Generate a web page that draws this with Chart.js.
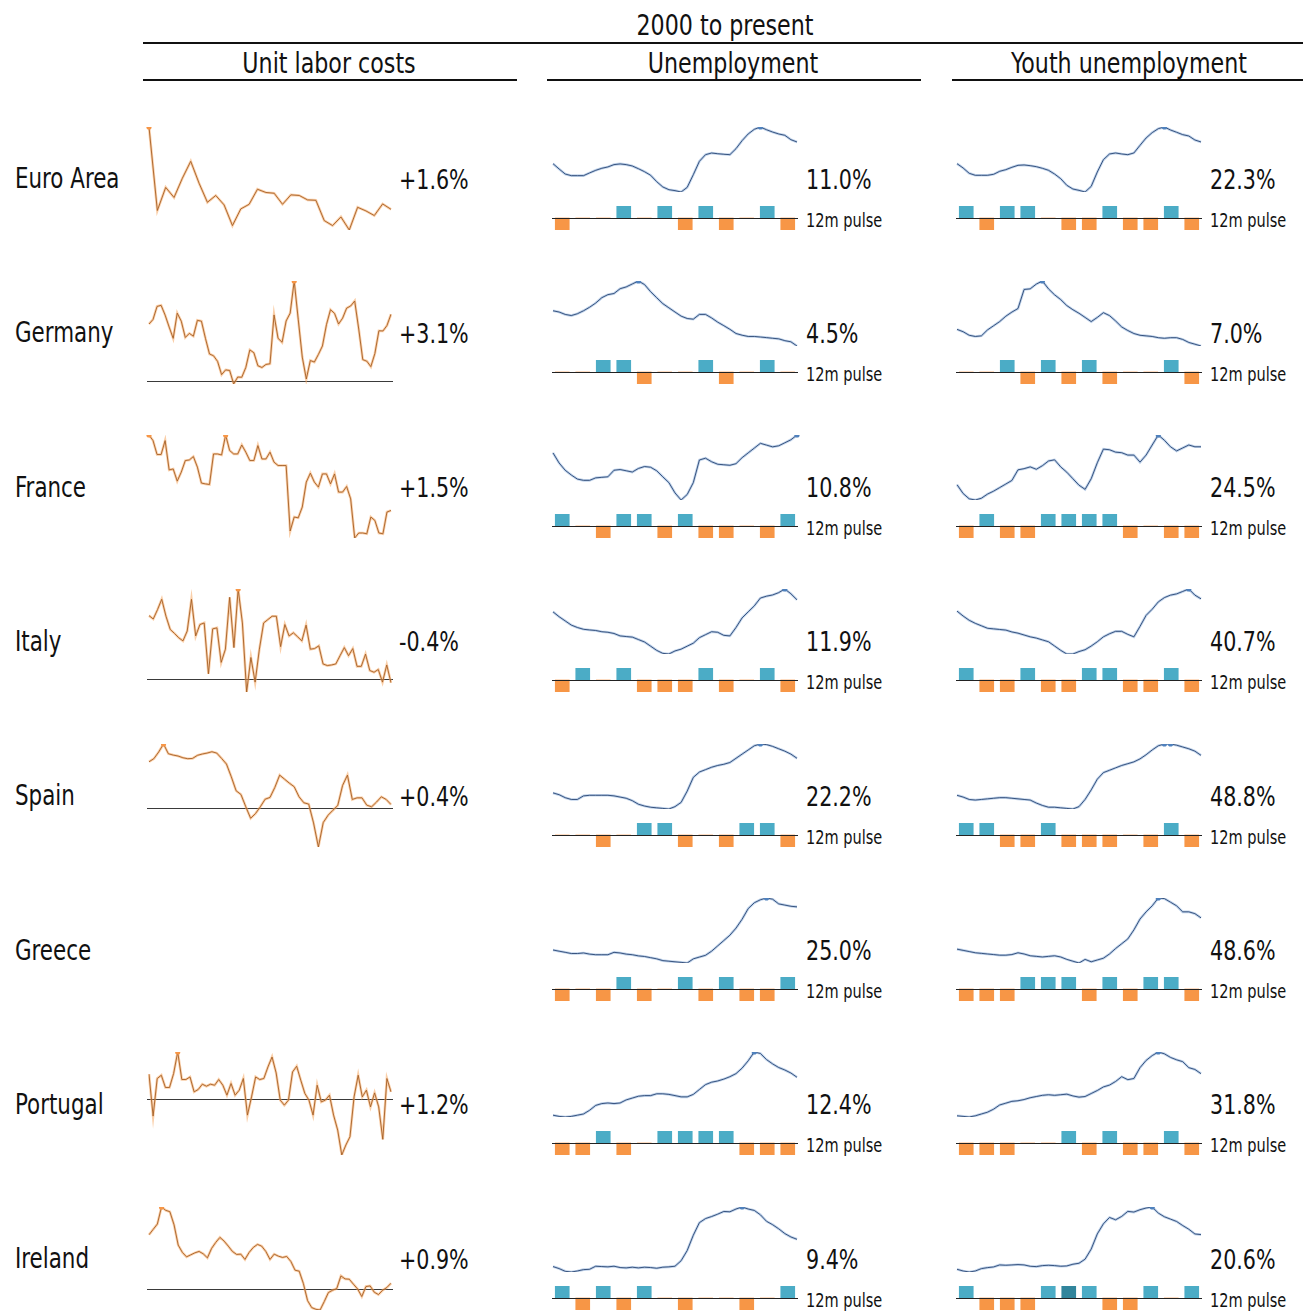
<!DOCTYPE html>
<html>
<head>
<meta charset="utf-8">
<script src="https://cdn.jsdelivr.net/npm/chart.js@4.4.1/dist/chart.umd.min.js"></script>
<style>
  body { margin: 0; background: #fff; }
  #page {
    position: relative; width: 1303px; height: 1313px; overflow: hidden; background: #fff;
    font-family: "Liberation Sans Narrow", "DejaVu Sans Condensed", "Arial Narrow", sans-serif; color: #111;
  }
  .t { position: absolute; white-space: nowrap; line-height: 1; transform: scaleX(0.85); transform-origin: 0 50%; }
  .t.c { transform-origin: 50% 50%; text-align: center; }
  .rule { position: absolute; height: 2px; background: #111; }
  canvas { position: absolute; }
</style>
</head>
<body>
<div id="page"></div>
<script>
// rows and latest values
const countries = ["Euro Area", "Germany", "France", "Italy", "Spain", "Greece", "Portugal", "Ireland"];
const ulcLatest = ["+1.6%", "+3.1%", "+1.5%", "-0.4%", "+0.4%", "", "+1.2%", "+0.9%"];
const unempLatest = ["11.0%", "4.5%", "10.8%", "11.9%", "22.2%", "25.0%", "12.4%", "9.4%"];
const youthLatest = ["22.3%", "7.0%", "24.5%", "40.7%", "48.8%", "48.6%", "31.8%", "20.6%"];

// unit labor costs, % y/y
const ulcEuroArea = [5.7, 1.54, 2.69, 2.19, 3.15, 3.99, 2.9, 1.95, 2.29, 1.82, 0.79, 1.62, 1.85, 2.6, 2.44, 2.4, 1.85, 2.32, 2.29, 2.07, 2.05, 1.04, 0.79, 1.22, 0.57, 1.7, 1.52, 1.29, 1.87, 1.6];
const ulcGermany = [2.64, 2.85, 3.45, 3.5, 3.05, 2.5, 1.98, 3.14, 2.77, 2.02, 2.21, 2.08, 2.81, 2.77, 1.98, 1.26, 1.18, 0.92, 0.31, 0.53, 0.5, -0.12, 0.2, 0.19, 0.64, 1.45, 1.32, 0.72, 0.64, 0.78, 0.81, 3.06, 1.98, 1.8, 2.78, 3.14, 4.62, 2.86, 1.12, 0.11, 0.96, 0.89, 1.24, 1.63, 2.61, 3.3, 3.13, 2.64, 2.91, 3.37, 3.47, 3.7, 2.41, 1.0, 0.93, 0.68, 1.28, 2.33, 2.32, 2.57, 3.09];
const ulcFrance = [5.28, 5.0, 4.3, 4.3, 5.0, 3.53, 3.58, 2.97, 3.42, 4.0, 4.03, 4.2, 3.67, 2.87, 2.83, 2.8, 4.33, 4.33, 4.28, 5.28, 4.5, 4.33, 4.33, 4.78, 4.42, 4.0, 4.0, 4.75, 4.08, 4.08, 4.42, 3.92, 3.75, 3.75, 3.75, 0.47, 1.17, 1.13, 1.67, 2.92, 3.37, 2.92, 2.67, 3.33, 3.33, 2.83, 3.33, 2.42, 2.42, 2.7, 2.08, 0.12, 0.37, 0.37, 0.33, 1.17, 1.0, 0.37, 0.33, 1.42, 1.5];
const ulcItaly = [3.2, 3.03, 3.5, 4.03, 3.17, 2.5, 2.3, 2.08, 1.92, 2.42, 4.03, 2.17, 2.75, 2.83, 0.25, 2.53, 2.58, 0.83, 1.5, 4.13, 1.58, 4.55, 2.83, -0.67, 1.08, -0.17, 1.5, 2.83, 3.0, 3.17, 3.17, 1.63, 2.75, 2.17, 2.33, 2.13, 1.92, 2.72, 1.5, 1.53, 1.67, 0.75, 0.67, 0.7, 0.75, 1.17, 1.58, 1.17, 1.53, 0.63, 0.63, 1.25, 0.42, 0.33, 0.47, -0.17, 0.7, -0.2];
const ulcSpain = [3.45, 3.68, 4.18, 4.78, 4.05, 3.95, 3.88, 3.75, 3.68, 3.7, 3.93, 4.03, 4.1, 4.2, 4.1, 3.7, 3.28, 2.33, 1.28, 1.0, 0.08, -0.78, -0.43, 0.08, 0.65, 0.78, 1.53, 2.45, 2.15, 1.85, 1.58, 0.83, 0.38, 0.28, -1.13, -2.93, -1.1, -0.55, -0.18, 0.18, 1.68, 2.45, 0.63, 0.75, 0.75, 0.2, 0.08, 0.43, 0.83, 0.63, 0.25];
const ulcGreece = [];
const ulcPortugal = [2.5, -1.7, 2.07, 2.4, 1.17, 1.17, 2.57, 4.73, 1.97, 1.97, 2.23, 0.73, 0.97, 1.5, 1.3, 1.5, 1.4, 1.97, 1.4, 0.4, 1.57, 0.4, 0.9, 2.07, -1.6, 0.23, 2.23, 1.97, 2.07, 3.23, 4.23, 2.63, -0.1, -0.6, -0.1, 2.73, 3.3, 1.9, 0.57, -0.1, -1.6, 1.4, -0.27, -0.1, 0.4, -1.6, -3.1, -5.6, -4.6, -3.77, 0.23, 2.4, 0.23, 0.9, -0.77, 0.63, -0.77, -4.03, 2.07, 0.73];
const ulcIreland = [5.43, 5.97, 6.5, 8.2, 7.87, 7.73, 6.43, 4.4, 3.67, 3.23, 3.43, 3.63, 3.77, 3.53, 3.13, 4.07, 4.67, 5.17, 4.8, 4.3, 3.77, 3.47, 3.5, 2.97, 3.67, 4.17, 4.47, 4.3, 3.77, 2.97, 3.5, 3.3, 3.17, 3.27, 2.77, 1.9, 1.8, 0.57, -1.13, -1.83, -2.0, -2.07, -1.23, -0.33, -0.1, 0.07, 1.33, 1.03, 1.0, 0.5, 0.03, -0.73, 0.27, 0.33, -0.3, -0.53, -0.1, 0.17, 0.6];

// unemployment rate, %
const unempEuroArea = [9.41, 9.02, 8.65, 8.53, 8.53, 8.53, 8.73, 8.92, 9.07, 9.17, 9.34, 9.39, 9.34, 9.24, 9.04, 8.82, 8.56, 8.09, 7.7, 7.5, 7.43, 7.33, 7.67, 8.6, 9.58, 10.07, 10.19, 10.14, 10.1, 10.07, 10.51, 11.1, 11.59, 11.93, 12.1, 11.9, 11.73, 11.59, 11.49, 11.17, 11.0];
const unempGermany = [8.19, 8.06, 7.81, 7.69, 7.88, 8.19, 8.56, 9.0, 9.56, 9.88, 10.0, 10.5, 10.69, 11.0, 11.31, 10.94, 10.19, 9.56, 8.94, 8.5, 8.06, 7.63, 7.38, 7.31, 7.81, 7.81, 7.44, 7.0, 6.63, 6.25, 5.81, 5.63, 5.5, 5.5, 5.44, 5.38, 5.31, 5.25, 5.06, 4.94, 4.5];
const unempFrance = [9.79, 9.22, 8.81, 8.54, 8.31, 8.24, 8.24, 8.38, 8.41, 8.44, 8.81, 8.85, 8.78, 8.71, 8.91, 9.02, 8.98, 8.78, 8.44, 8.11, 7.53, 7.13, 7.44, 8.11, 9.39, 9.49, 9.29, 9.15, 9.12, 9.09, 9.18, 9.52, 9.79, 10.06, 10.33, 10.23, 10.13, 10.19, 10.36, 10.53, 10.8];
const unempItaly = [10.61, 10.09, 9.64, 9.19, 8.93, 8.74, 8.67, 8.61, 8.48, 8.42, 8.29, 8.03, 7.96, 7.9, 7.64, 7.38, 6.93, 6.48, 6.16, 6.09, 6.42, 6.61, 6.93, 7.25, 7.84, 8.16, 8.48, 8.42, 8.09, 8.03, 8.93, 9.96, 10.61, 11.25, 12.09, 12.29, 12.42, 12.67, 13.06, 12.55, 11.9];
const unempSpain = [12.29, 11.77, 10.92, 10.4, 10.4, 11.43, 11.6, 11.6, 11.6, 11.6, 11.43, 11.09, 10.75, 10.06, 9.04, 8.52, 8.18, 8.01, 7.84, 7.67, 8.35, 9.55, 12.8, 16.73, 18.27, 18.95, 19.64, 20.15, 20.49, 21.0, 22.2, 23.4, 24.59, 25.79, 26.3, 26.13, 25.62, 24.93, 24.25, 23.4, 22.2];
const unempGreece = [10.88, 10.49, 10.11, 9.72, 9.72, 9.91, 9.53, 9.33, 9.33, 9.33, 10.11, 9.91, 9.53, 9.33, 8.95, 8.75, 8.37, 7.98, 7.4, 7.21, 7.01, 6.82, 6.62, 7.98, 8.56, 9.14, 10.49, 12.23, 13.97, 15.72, 18.04, 20.94, 24.42, 26.35, 27.32, 27.9, 27.51, 25.97, 25.58, 25.19, 25.0];
const unempPortugal = [5.51, 5.29, 5.18, 5.29, 5.51, 5.73, 6.4, 7.29, 7.62, 7.73, 7.62, 7.73, 8.29, 8.62, 8.96, 9.07, 9.07, 9.4, 9.4, 9.29, 9.07, 8.84, 8.84, 9.29, 10.18, 11.07, 11.51, 11.73, 12.07, 12.51, 13.07, 14.07, 15.4, 17.0, 16.73, 15.62, 14.84, 14.18, 13.73, 13.18, 12.4];
const unempIreland = [4.69, 4.34, 3.87, 3.75, 3.93, 4.16, 4.22, 4.75, 4.69, 4.64, 4.75, 4.52, 4.46, 4.58, 4.46, 4.58, 4.52, 4.4, 4.58, 4.64, 4.75, 5.69, 7.46, 10.11, 12.28, 12.99, 13.34, 13.75, 14.22, 14.16, 14.64, 14.99, 14.64, 14.4, 13.64, 12.52, 11.93, 11.22, 10.4, 9.81, 9.4];

// youth unemployment rate, %
const youthEuroArea = [19.26, 18.66, 17.91, 17.63, 17.63, 17.63, 17.77, 18.19, 18.42, 18.75, 19.03, 19.08, 18.98, 18.84, 18.61, 18.33, 17.81, 17.16, 16.23, 15.71, 15.52, 15.29, 16.08, 18.09, 19.82, 20.62, 20.76, 20.62, 20.52, 20.76, 21.83, 22.86, 23.61, 24.17, 24.4, 23.98, 23.66, 23.33, 23.14, 22.58, 22.3];
const youthGermany = [9.2, 8.89, 8.42, 8.26, 8.34, 9.13, 9.68, 10.23, 10.94, 11.49, 11.96, 14.48, 14.56, 15.19, 15.6, 14.56, 13.77, 13.14, 12.35, 11.8, 11.33, 10.78, 10.23, 10.78, 11.41, 11.02, 10.31, 9.52, 9.05, 8.65, 8.42, 8.34, 8.26, 8.1, 8.02, 8.1, 8.1, 7.87, 7.47, 7.24, 7.0];
const youthFrance = [18.98, 17.69, 16.91, 16.74, 17.0, 17.6, 18.03, 18.55, 19.07, 19.59, 21.14, 21.31, 21.57, 21.22, 21.74, 22.43, 22.6, 21.57, 20.79, 19.84, 18.9, 18.29, 19.84, 22.17, 24.16, 24.07, 23.72, 23.64, 23.29, 23.29, 22.26, 23.29, 24.76, 26.22, 25.45, 24.5, 23.9, 24.33, 24.76, 24.5, 24.5];
const youthItaly = [37.06, 35.61, 34.34, 33.43, 32.7, 31.97, 31.79, 31.61, 31.43, 30.88, 30.52, 29.97, 29.43, 29.06, 28.52, 27.97, 26.7, 25.43, 24.34, 24.34, 25.06, 25.61, 26.7, 27.97, 29.43, 30.34, 31.06, 31.06, 30.16, 29.43, 32.52, 35.79, 37.61, 39.79, 41.06, 41.79, 42.16, 42.88, 43.61, 41.79, 40.7];
const youthSpain = [25.2, 24.15, 22.74, 22.39, 22.74, 23.1, 23.45, 23.8, 23.8, 23.45, 23.1, 22.74, 22.39, 20.63, 19.22, 18.17, 18.17, 17.81, 17.46, 17.11, 18.52, 22.74, 28.38, 34.72, 38.59, 39.99, 41.41, 42.81, 43.87, 44.93, 46.69, 49.15, 51.97, 54.43, 55.49, 55.49, 54.79, 53.73, 52.67, 51.26, 48.8];
const youthGreece = [33.31, 32.72, 32.13, 31.54, 31.25, 30.95, 30.66, 30.36, 30.36, 30.66, 31.54, 30.95, 30.07, 29.78, 29.48, 29.78, 30.07, 29.48, 28.31, 27.42, 26.54, 28.31, 27.13, 28.01, 28.89, 30.95, 33.6, 35.95, 38.31, 42.72, 48.01, 51.54, 54.48, 58.3, 58.01, 56.25, 54.48, 51.54, 51.54, 50.66, 48.6];
const youthPortugal = [16.24, 16.02, 15.8, 16.24, 16.91, 17.58, 18.69, 20.24, 20.91, 21.58, 21.8, 22.24, 22.91, 23.36, 23.8, 24.02, 23.8, 24.02, 24.24, 23.58, 23.13, 23.36, 24.47, 25.58, 26.91, 27.58, 28.91, 30.69, 29.58, 30.02, 34.02, 36.69, 38.47, 39.8, 39.13, 37.8, 36.91, 36.24, 34.02, 33.36, 31.8];
const youthIreland = [8.04, 7.43, 7.06, 7.43, 8.28, 8.65, 8.89, 9.62, 9.5, 9.62, 9.75, 9.62, 9.14, 9.01, 9.38, 9.5, 9.38, 9.14, 9.26, 9.87, 10.23, 11.7, 15.36, 20.84, 24.5, 26.82, 25.97, 27.19, 29.01, 28.77, 29.62, 30.23, 30.6, 28.4, 27.06, 26.21, 25.36, 23.89, 22.55, 20.84, 20.6];

// 12m pulse: 1 = rising, -1 = falling, 0 = no signal, 2 = rising (highlighted)
const pulseUnempEuroArea = [-1, 0, 0, 1, 0, 1, -1, 1, -1, 0, 1, -1];
const pulseUnempGermany = [0, 0, 1, 1, -1, 0, 0, 1, -1, 0, 1, 0];
const pulseUnempFrance = [1, 0, -1, 1, 1, -1, 1, -1, -1, 0, -1, 1];
const pulseUnempItaly = [-1, 1, 0, 1, -1, -1, -1, 1, -1, 0, 1, -1];
const pulseUnempSpain = [0, 0, -1, 0, 1, 1, -1, 0, -1, 1, 1, -1];
const pulseUnempGreece = [-1, 0, -1, 1, -1, 0, 1, -1, 1, -1, -1, 1];
const pulseUnempPortugal = [-1, -1, 1, -1, 0, 1, 1, 1, 1, -1, -1, -1];
const pulseUnempIreland = [1, -1, 1, -1, 1, 0, -1, 0, 0, -1, 0, 1];

const pulseYouthEuroArea = [1, -1, 1, 1, 0, -1, -1, 1, -1, -1, 1, -1];
const pulseYouthGermany = [0, 0, 1, -1, 1, -1, 1, -1, 0, 0, 1, -1];
const pulseYouthFrance = [-1, 1, -1, -1, 1, 1, 1, 1, -1, 0, -1, -1];
const pulseYouthItaly = [1, -1, -1, 1, -1, -1, 1, 1, -1, -1, 1, -1];
const pulseYouthSpain = [1, 1, -1, -1, 1, -1, -1, -1, 0, -1, 1, -1];
const pulseYouthGreece = [-1, -1, -1, 1, 1, 1, -1, 1, -1, 1, 1, -1];
const pulseYouthPortugal = [-1, -1, -1, 0, 0, 1, -1, 1, -1, -1, 1, -1];
const pulseYouthIreland = [1, -1, -1, -1, 1, 2, 1, -1, -1, 1, 0, 1];

const ulcSeries = [ulcEuroArea, ulcGermany, ulcFrance, ulcItaly, ulcSpain, ulcGreece, ulcPortugal, ulcIreland];
const unempSeries = [unempEuroArea, unempGermany, unempFrance, unempItaly, unempSpain, unempGreece, unempPortugal, unempIreland];
const youthSeries = [youthEuroArea, youthGermany, youthFrance, youthItaly, youthSpain, youthGreece, youthPortugal, youthIreland];
const unempPulse = [pulseUnempEuroArea, pulseUnempGermany, pulseUnempFrance, pulseUnempItaly, pulseUnempSpain, pulseUnempGreece, pulseUnempPortugal, pulseUnempIreland];
const youthPulse = [pulseYouthEuroArea, pulseYouthGermany, pulseYouthFrance, pulseYouthItaly, pulseYouthSpain, pulseYouthGreece, pulseYouthPortugal, pulseYouthIreland];

const page = document.getElementById("page");
const TEAL = "#4bacc6", TEAL_DARK = "#31859c", ORANGE = "#f79646";

function text(str, x, y, size, center) {
  const d = document.createElement("div");
  d.className = center ? "t c" : "t";
  d.textContent = str;
  d.style.fontSize = size + "px";
  d.style.top = (y - size / 2) + "px";
  if (center) {
    d.style.left = (x - 300) + "px";
    d.style.width = "600px";
  } else {
    d.style.left = x + "px";
  }
  page.appendChild(d);
}

function rule(x1, x2, y) {
  const d = document.createElement("div");
  d.className = "rule";
  d.style.left = x1 + "px";
  d.style.width = (x2 - x1) + "px";
  d.style.top = (y - 1) + "px";
  page.appendChild(d);
}

function makeCanvas(x, y, w, h) {
  const cv = document.createElement("canvas");
  cv.width = w;
  cv.height = h;
  cv.style.left = x + "px";
  cv.style.top = y + "px";
  page.appendChild(cv);
  return cv;
}

// horizontal rule at value 0 of the y scale
const zeroLine = {
  id: "zeroLine",
  beforeDatasetsDraw(chart, args, opts) {
    if (!opts.color || opts.over) return;
    drawZero(chart, opts);
  },
  afterDatasetsDraw(chart, args, opts) {
    if (opts.over) drawZero(chart, opts);
  }
};

function drawZero(chart, opts) {
  const ys = chart.scales.y;
  if (ys.min > 0 || ys.max < 0) return;
  const py = Math.round(ys.getPixelForValue(0)) + 0.5;
  const ctx = chart.ctx;
  ctx.save();
  ctx.strokeStyle = opts.color;
  ctx.lineWidth = opts.width || 1;
  ctx.beginPath();
  ctx.moveTo(chart.chartArea.left - (opts.ext || 0), py);
  ctx.lineTo(chart.chartArea.right + (opts.ext || 0), py);
  ctx.stroke();
  ctx.restore();
}

function sparkline(x, top, w, h, values, core, glow, dot, zero) {
  if (!values.length) return;
  const pad = 5;
  const cv = makeCanvas(x - pad, top - pad, w + 2 * pad, h + 2 * pad);
  const max = Math.max(...values), min = Math.min(...values);
  new Chart(cv, {
    type: "line",
    data: {
      labels: values.map((v, i) => i),
      datasets: [
        {
          data: values, borderColor: core, borderWidth: 1, tension: 0,
          pointRadius: values.map(v => (v === max ? 2.6 : 0)),
          pointBackgroundColor: dot, pointBorderWidth: 0
        },
        { data: values, borderColor: glow, borderWidth: 2.6, tension: 0, pointRadius: 0 }
      ]
    },
    options: {
      responsive: false, animation: false, events: [],
      layout: { padding: pad },
      plugins: {
        legend: { display: false }, tooltip: { enabled: false },
        zeroLine: zero ? { color: "#3a3a3a", width: 1, ext: 2 } : {}
      },
      scales: {
        x: { display: false },
        y: { display: false, min: min, max: max }
      }
    },
    plugins: [zeroLine]
  });
}

function pulse(x, top, w, values) {
  const h = 24, pad = 2;
  const cv = makeCanvas(x, top - pad, w, h + 2 * pad);
  new Chart(cv, {
    type: "bar",
    data: {
      labels: values.map((v, i) => i),
      datasets: [{
        data: values.map(v => Math.sign(v)),
        backgroundColor: values.map(v => (v === 2 ? TEAL_DARK : v > 0 ? TEAL : ORANGE)),
        borderWidth: 0, barThickness: 14
      }]
    },
    options: {
      responsive: false, animation: false, events: [],
      layout: { padding: { left: 0, right: 0, top: pad, bottom: pad } },
      plugins: {
        legend: { display: false }, tooltip: { enabled: false },
        zeroLine: { over: true, color: "#222", width: 1, ext: 0 }
      },
      scales: {
        x: { display: false },
        y: { display: false, min: -1, max: 1 }
      }
    },
    plugins: [zeroLine]
  });
}

// headers
text("2000 to present", 725, 25, 29, true);
rule(143, 1303, 43);
text("Unit labor costs", 329, 63, 29, true);
text("Unemployment", 733, 63, 29, true);
text("Youth unemployment", 1129, 63, 29, true);
rule(143, 517, 80);
rule(547, 921, 80);
rule(952, 1303, 80);

countries.forEach((name, i) => {
  const rc = 179 + i * 154.3;
  text(name, 15, rc, 28, false);

  // unit labor costs
  sparkline(149, rc - 52.5, 242, 103, ulcSeries[i], "rgba(165,95,38,0.9)", "rgba(246,168,98,0.55)", ORANGE, true);
  if (ulcLatest[i]) text(ulcLatest[i], 399, rc, 27, false);

  // unemployment + youth unemployment
  [[553, unempSeries[i], unempPulse[i], unempLatest[i]],
   [957, youthSeries[i], youthPulse[i], youthLatest[i]]].forEach(([x0, vals, pl, lab]) => {
    sparkline(x0, rc - 52.5, 244, 65, vals, "rgba(38,66,112,0.88)", "rgba(130,168,215,0.5)", "#4f81bd", false);
    pulse(x0 - 1, rc + 26.5, 246, pl);
    text(lab, x0 + 253, rc, 27, false);
    text("12m pulse", x0 + 253, rc + 41, 19, false);
  });
});
</script>
</body>
</html>
